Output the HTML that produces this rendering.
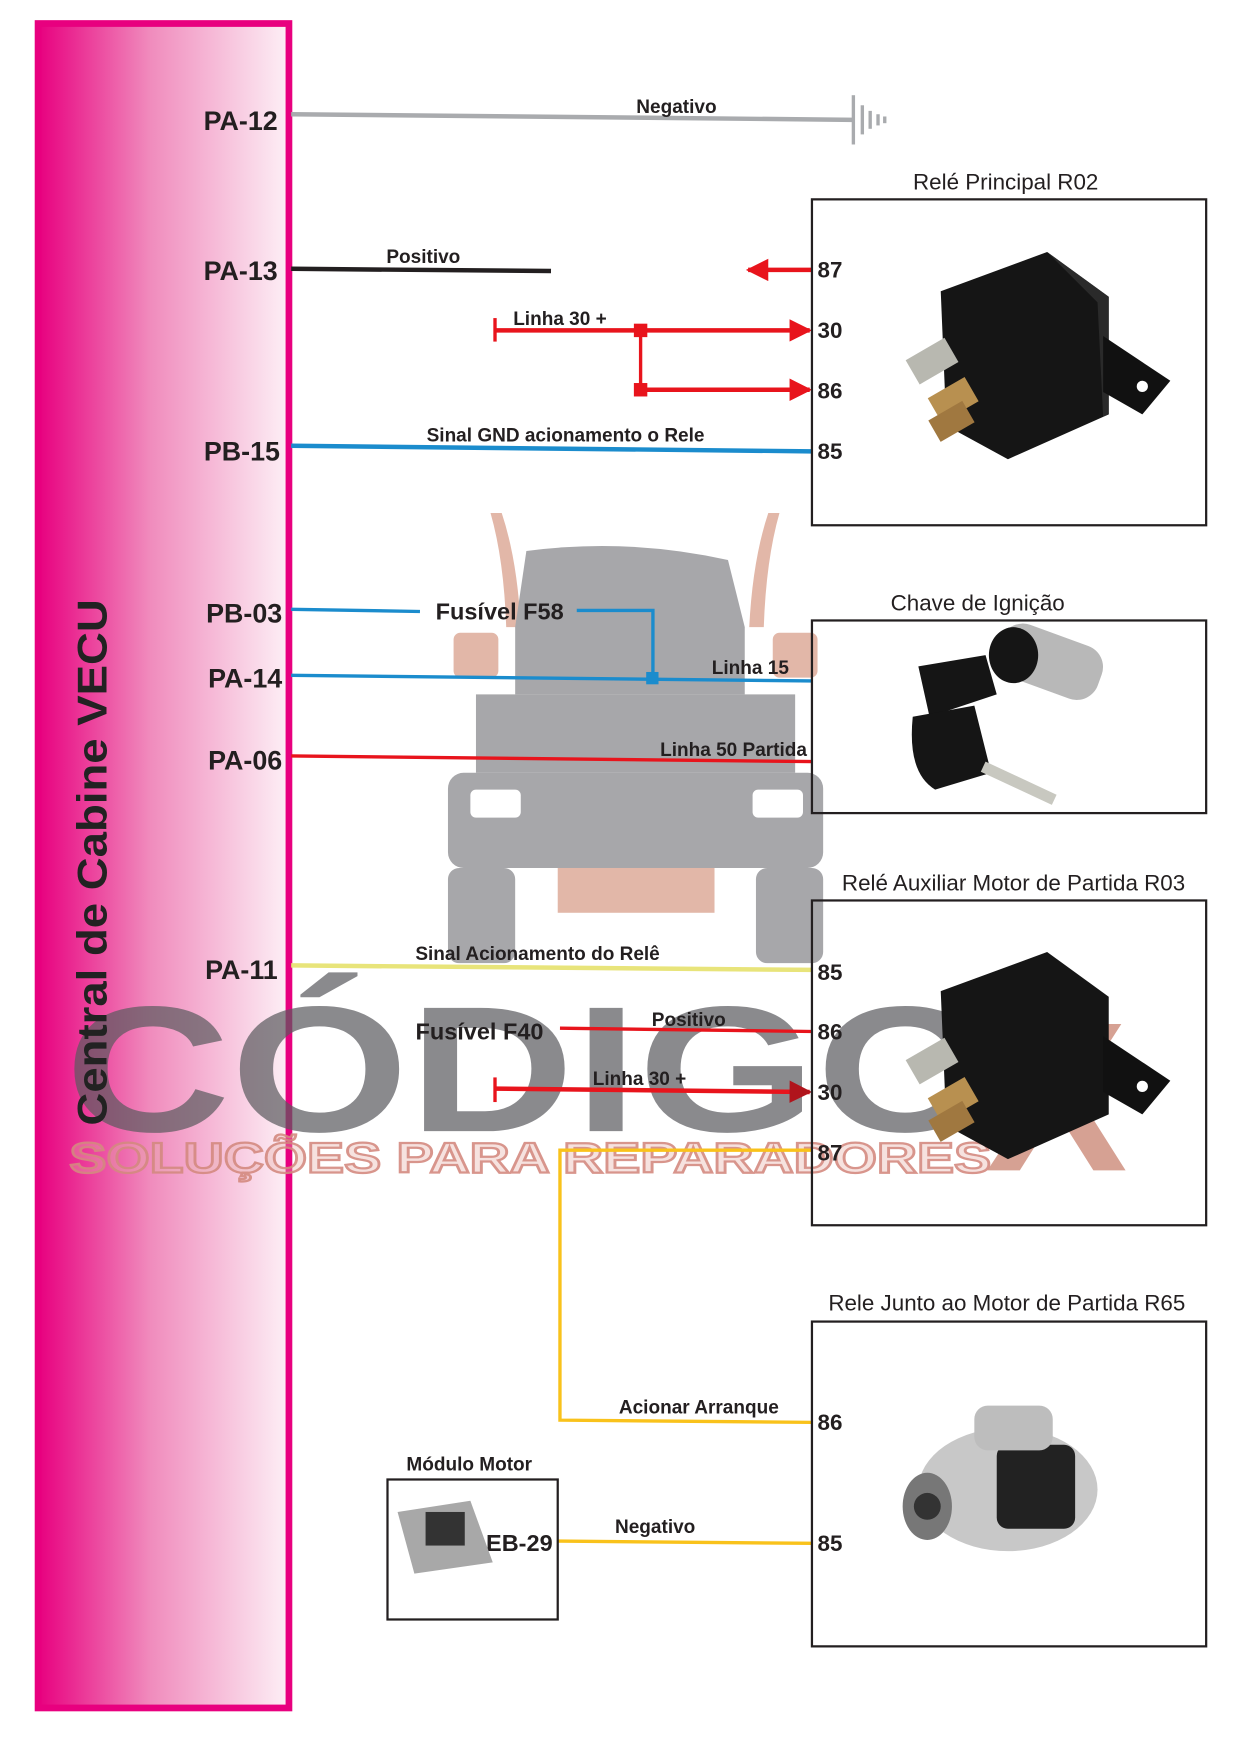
<!DOCTYPE html>
<html><head><meta charset="utf-8"><style>
html,body{margin:0;padding:0;background:#fff}
svg{display:block}
text{font-family:"Liberation Sans",Arial,sans-serif}
.b{font-weight:bold}
</style></head><body>
<svg width="1242" height="1755" viewBox="0 0 1109 1567" preserveAspectRatio="none" xmlns="http://www.w3.org/2000/svg">
<defs>
<linearGradient id="pg" x1="0" x2="1" y1="0" y2="0">
<stop offset="0" stop-color="#e8007f"/><stop offset="0.45" stop-color="#f08cbd"/><stop offset="1" stop-color="#fdf0f6"/>
</linearGradient>
<marker id="ar" viewBox="0 0 10 10" refX="9" refY="5" markerWidth="5" markerHeight="5" orient="auto"><path d="M0,0L10,5L0,10z" fill="#e8141c"/></marker>
<marker id="ar2" viewBox="0 0 10 10" refX="9" refY="5" markerWidth="5" markerHeight="5" orient="auto"><path d="M0,0L10,5L0,10z" fill="#b0141c"/></marker>
</defs>
<rect width="1109" height="1567" fill="#fff"/>
<rect x="34" y="21" width="224" height="1504" fill="url(#pg)" stroke="#e8007f" stroke-width="6"/>
<g opacity="0.75">
<path d="M438,458 Q450,500 452,560 L465,560 Q462,500 448,458z" fill="#d9a08c"/>
<path d="M696,458 Q684,500 682,560 L669,560 Q672,500 686,458z" fill="#d9a08c"/>
<path d="M470,492 Q560,480 650,500 L665,560 L665,620 L460,620 L460,560z" fill="#8a8a8e"/>
<rect x="405" y="565" width="40" height="40" rx="6" fill="#d9a08c"/>
<rect x="690" y="565" width="40" height="40" rx="6" fill="#d9a08c"/>
<rect x="425" y="620" width="285" height="70" fill="#8a8a8e"/>
<rect x="400" y="690" width="335" height="85" rx="14" fill="#8a8a8e"/>
<rect x="420" y="705" width="45" height="25" rx="5" fill="#fff"/>
<rect x="672" y="705" width="45" height="25" rx="5" fill="#fff"/>
<rect x="498" y="775" width="140" height="40" fill="#d9a08c"/>
<rect x="400" y="775" width="60" height="85" rx="10" fill="#8a8a8e"/>
<rect x="675" y="775" width="60" height="85" rx="10" fill="#8a8a8e"/>
</g>
<text x="58" y="1010" font-size="160" class="b" fill="#5a5a5e" opacity="0.7" textLength="830" lengthAdjust="spacingAndGlyphs">CÓDIGO</text>
<text x="880" y="1045" font-size="190" class="b" fill="#c9826f" opacity="0.75">X</text>
<text x="62" y="1047" font-size="38" class="b" fill="#e6b0a8" fill-opacity="0.4" stroke="#d48a80" stroke-width="2" opacity="0.9" textLength="823" lengthAdjust="spacingAndGlyphs">SOLUÇÕES PARA REPARADORES</text>
<text transform="translate(95,1005) rotate(-90)" font-size="37" class="b" fill="#222" textLength="470" lengthAdjust="spacingAndGlyphs">Central de Cabine VECU</text>
<g class="b" font-size="24" fill="#231f20" text-anchor="end">
<text x="248" y="116">PA-12</text><text x="248" y="250">PA-13</text><text x="250" y="411">PB-15</text>
<text x="252" y="556">PB-03</text><text x="252" y="614">PA-14</text><text x="252" y="687">PA-06</text><text x="248" y="874">PA-11</text>
</g>
<line x1="260" y1="102" x2="762" y2="107" stroke="#a9abae" stroke-width="4"/>
<g stroke="#a9abae" stroke-width="3"><line x1="762" y1="85" x2="762" y2="129"/><line x1="770" y1="94" x2="770" y2="120"/><line x1="777" y1="99" x2="777" y2="115"/><line x1="784" y1="102" x2="784" y2="112"/><line x1="790" y1="104" x2="790" y2="110"/></g>
<line x1="260" y1="240" x2="492" y2="242" stroke="#231f20" stroke-width="4"/>
<line x1="725" y1="241" x2="668" y2="241" stroke="#e8141c" stroke-width="4" marker-end="url(#ar)"/>
<line x1="442" y1="284" x2="442" y2="305" stroke="#e8141c" stroke-width="3"/>
<line x1="442" y1="295" x2="723" y2="295" stroke="#e8141c" stroke-width="4" marker-end="url(#ar)"/>
<line x1="572" y1="295" x2="572" y2="348" stroke="#e8141c" stroke-width="3"/>
<line x1="572" y1="348" x2="723" y2="348" stroke="#e8141c" stroke-width="4" marker-end="url(#ar)"/>
<rect x="566" y="289" width="12" height="12" fill="#e8141c"/><rect x="566" y="342" width="12" height="12" fill="#e8141c"/>
<line x1="260" y1="398" x2="725" y2="403" stroke="#1b8ccd" stroke-width="4"/>
<line x1="260" y1="544" x2="375" y2="546" stroke="#1b8ccd" stroke-width="3"/>
<polyline points="515,545 583,545 583,606" fill="none" stroke="#1b8ccd" stroke-width="3"/>
<line x1="260" y1="603" x2="725" y2="608" stroke="#1b8ccd" stroke-width="3"/>
<rect x="577" y="600" width="11" height="11" fill="#1b8ccd"/>
<line x1="260" y1="675" x2="725" y2="680" stroke="#e8141c" stroke-width="3"/>
<line x1="260" y1="862" x2="725" y2="866" stroke="#e8e47a" stroke-width="4"/>
<line x1="500" y1="918" x2="725" y2="921" stroke="#e8141c" stroke-width="3"/>
<line x1="442" y1="962" x2="442" y2="984" stroke="#e8141c" stroke-width="3"/>
<line x1="442" y1="972" x2="723" y2="975" stroke="#e8141c" stroke-width="4" marker-end="url(#ar2)"/>
<polyline points="725,1027 500,1027 500,1268 725,1270" fill="none" stroke="#f9c21b" stroke-width="3"/>
<line x1="498" y1="1376" x2="725" y2="1378" stroke="#f9c21b" stroke-width="3"/>
<g class="b" font-size="17" fill="#231f20" text-anchor="middle">
<text x="604" y="101">Negativo</text><text x="378" y="235">Positivo</text><text x="500" y="290">Linha 30 +</text>
<text x="505" y="394">Sinal GND acionamento o Rele</text><text x="670" y="602">Linha 15</text><text x="655" y="675">Linha 50 Partida</text>
<text x="480" y="857">Sinal Acionamento do Relê</text><text x="615" y="916">Positivo</text><text x="571" y="969">Linha 30 +</text>
<text x="624" y="1262">Acionar Arranque</text><text x="585" y="1369">Negativo</text><text x="419" y="1313">Módulo Motor</text>
</g>
<g class="b" font-size="21" fill="#231f20"><text x="389" y="553">Fusível F58</text><text x="371" y="928">Fusível F40</text><text x="434" y="1385">EB-29</text></g>
<g fill="none" stroke="#231f20" stroke-width="2">
<rect x="725" y="178" width="352" height="291"/><rect x="725" y="554" width="352" height="172"/>
<rect x="725" y="804" width="352" height="290"/><rect x="725" y="1180" width="352" height="290"/>
<rect x="346" y="1321" width="152" height="125"/>
</g>
<g font-size="20" fill="#231f20" text-anchor="middle">
<text x="898" y="169">Relé Principal R02</text><text x="873" y="545">Chave de Ignição</text>
<text x="905" y="795">Relé Auxiliar Motor de Partida R03</text><text x="899" y="1170">Rele Junto ao Motor de Partida R65</text>
</g>
<g class="b" font-size="20" fill="#231f20">
<text x="730" y="248">87</text><text x="730" y="302">30</text><text x="730" y="356">86</text><text x="730" y="410">85</text>
<text x="730" y="875">85</text><text x="730" y="928">86</text><text x="730" y="982">30</text><text x="730" y="1036">87</text>
<text x="730" y="1277">86</text><text x="730" y="1385">85</text>
</g>
<g>
<path d="M840,260 L935,225 L990,265 L990,370 L900,410 L845,380z" fill="#151515"/>
<path d="M935,225 L990,265 L990,370 L985,372 L980,270z" fill="#2a2a2a"/>
<path d="M985,300 L1045,340 L1020,370 L985,350z" fill="#111"/><circle cx="1020" cy="345" r="5" fill="#fff"/>
<rect x="812" y="310" width="40" height="25" fill="#b8b8b0" transform="rotate(-30 832 322)"/>
<rect x="832" y="345" width="38" height="25" fill="#b89050" transform="rotate(-30 850 357)"/>
<rect x="832" y="365" width="35" height="22" fill="#a07840" transform="rotate(-30 850 376)"/>
</g>
<g>
<path d="M840,885 L935,850 L990,890 L990,995 L900,1035 L845,1005z" fill="#151515"/>
<path d="M985,925 L1045,965 L1020,995 L985,975z" fill="#111"/><circle cx="1020" cy="970" r="5" fill="#fff"/>
<rect x="812" y="935" width="40" height="25" fill="#b8b8b0" transform="rotate(-30 832 947)"/>
<rect x="832" y="970" width="38" height="25" fill="#b89050" transform="rotate(-30 850 982)"/>
<rect x="832" y="990" width="35" height="22" fill="#a07840" transform="rotate(-30 850 1001)"/>
</g>
<g>
<rect x="890" y="565" width="95" height="50" rx="20" fill="#b8b8b8" transform="rotate(20 935 590)"/>
<ellipse cx="905" cy="585" rx="22" ry="25" fill="#151515"/>
<path d="M820,595 L880,585 L890,620 L830,640z" fill="#151515"/>
<path d="M815,640 L870,630 L885,690 L835,705 Q810,690 815,640z" fill="#151515"/>
<rect x="880" y="680" width="70" height="10" fill="#c8c8c0" transform="rotate(25 880 680)"/>
</g>
<g>
<ellipse cx="900" cy="1330" rx="80" ry="55" fill="#c8c8c8"/>
<rect x="890" y="1290" width="70" height="75" rx="10" fill="#222"/>
<rect x="870" y="1255" width="70" height="40" rx="12" fill="#bdbdbd"/>
<ellipse cx="828" cy="1345" rx="22" ry="30" fill="#777"/>
<circle cx="828" cy="1345" r="12" fill="#333"/>
</g>
<g><path d="M355,1350 L420,1340 L440,1395 L370,1405z" fill="#a8a8a8"/><rect x="380" y="1350" width="35" height="30" fill="#333"/></g>
</svg>
</body></html>
